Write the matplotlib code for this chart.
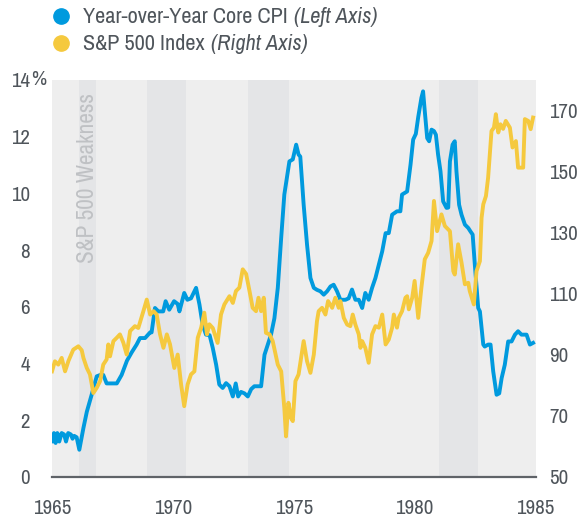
import matplotlib
matplotlib.use("Agg")
import matplotlib.pyplot as plt
from matplotlib import font_manager
from matplotlib.lines import Line2D
import matplotlib.transforms as mtransforms

# Daten
cpi_years = [1965.00, 1965.08, 1965.15, 1965.22, 1965.30, 1965.40, 1965.50, 1965.58, 1965.67,
             1965.78, 1965.85, 1965.92, 1966.02, 1966.13, 1966.30, 1966.44, 1966.64, 1966.85,
             1967.00, 1967.12, 1967.26, 1967.50, 1967.68, 1967.78, 1967.88, 1968.10, 1968.30,
             1968.50, 1968.64, 1968.85, 1969.06, 1969.12, 1969.26, 1969.40, 1969.60, 1969.70,
             1969.85, 1970.05, 1970.20, 1970.27, 1970.47, 1970.60, 1970.75, 1970.96, 1971.10,
             1971.23, 1971.37, 1971.52, 1971.65, 1971.79, 1971.92, 1972.06, 1972.20, 1972.34,
             1972.48, 1972.60, 1972.70, 1972.82, 1972.96, 1973.10, 1973.24, 1973.37, 1973.65,
             1973.79, 1974.06, 1974.20, 1974.34, 1974.48, 1974.61, 1974.82, 1974.96, 1975.10,
             1975.20, 1975.27, 1975.41, 1975.55, 1975.69, 1975.83, 1975.96, 1976.10, 1976.24,
             1976.38, 1976.52, 1976.65, 1976.79, 1976.93, 1977.14, 1977.27, 1977.41, 1977.55,
             1977.69, 1977.83, 1977.96, 1978.10, 1978.24, 1978.38, 1978.52, 1978.66, 1978.80,
             1978.93, 1979.07, 1979.27, 1979.41, 1979.48, 1979.69, 1979.83, 1979.94, 1980.05,
             1980.15, 1980.28, 1980.35, 1980.42, 1980.52, 1980.60, 1980.70, 1980.80, 1980.88,
             1980.97, 1981.07, 1981.18, 1981.32, 1981.39, 1981.46, 1981.57, 1981.66, 1981.73,
             1981.84, 1981.94, 1982.08, 1982.22, 1982.31, 1982.40, 1982.49, 1982.63, 1982.70,
             1982.84, 1982.90, 1983.04, 1983.14, 1983.25, 1983.39, 1983.50, 1983.60, 1983.73,
             1983.87, 1984.01, 1984.15, 1984.28, 1984.42, 1984.63, 1984.77, 1984.90]
cpi_values = [1.26, 1.55, 1.20, 1.55, 1.25, 1.55, 1.50, 1.25, 1.55,
              1.50, 1.35, 1.45, 1.40, 0.96, 1.73, 2.30, 2.90, 3.55,
              3.60, 3.60, 3.30, 3.30, 3.30, 3.45, 3.60, 4.10, 4.40,
              4.67, 4.90, 4.90, 5.10, 5.10, 5.96, 5.84, 5.84, 6.20,
              5.90, 6.20, 6.10, 5.84, 6.49, 6.25, 6.30, 6.67, 6.08,
              5.37, 5.02, 5.00, 4.55, 3.96, 3.26, 3.14, 3.31, 3.20,
              2.84, 3.30, 2.84, 3.00, 2.95, 2.84, 3.10, 3.20, 3.20,
              4.31, 5.02, 5.60, 6.67, 8.43, 9.96, 11.13, 11.20, 11.72,
              11.37, 11.30, 9.60, 8.19, 7.02, 6.67, 6.60, 6.55, 6.43,
              6.55, 6.72, 6.78, 6.55, 6.25, 6.25, 6.30, 6.61, 6.25,
              6.25, 5.96, 6.49, 6.25, 6.67, 7.02, 7.49, 7.96, 8.60,
              8.60, 9.25, 9.37, 9.37, 9.96, 10.07, 11.01, 11.90, 12.10,
              12.70, 13.37, 13.60, 12.90, 11.95, 11.84, 12.25, 12.20, 12.07,
              11.37, 10.78, 9.72, 9.49, 9.50, 11.13, 11.72, 11.84, 10.78,
              9.60, 9.25, 8.90, 8.78, 8.66, 8.55, 7.49, 5.96, 5.84,
              4.67, 4.60, 4.67, 4.67, 3.73, 2.90, 2.95, 3.49, 3.96,
              4.78, 4.78, 5.02, 5.14, 5.02, 5.02, 4.67, 4.73]

sp_years = [1965.00, 1965.12, 1965.26, 1965.40, 1965.54, 1965.68, 1965.88, 1966.09, 1966.23,
            1966.30, 1966.44, 1966.57, 1966.71, 1966.85, 1966.99, 1967.12, 1967.26, 1967.33,
            1967.40, 1967.54, 1967.68, 1967.81, 1967.95, 1968.09, 1968.23, 1968.43, 1968.57,
            1968.78, 1968.92, 1969.06, 1969.20, 1969.33, 1969.47, 1969.61, 1969.75, 1969.88,
            1970.06, 1970.20, 1970.34, 1970.47, 1970.61, 1970.75, 1970.89, 1971.03, 1971.17,
            1971.30, 1971.41, 1971.51, 1971.65, 1971.85, 1971.99, 1972.13, 1972.34, 1972.48,
            1972.61, 1972.75, 1972.89, 1973.03, 1973.17, 1973.30, 1973.44, 1973.54, 1973.65,
            1973.76, 1973.85, 1974.00, 1974.13, 1974.34, 1974.48, 1974.61, 1974.68, 1974.78,
            1974.89, 1974.96, 1975.07, 1975.20, 1975.41, 1975.55, 1975.69, 1975.83, 1975.96,
            1976.03, 1976.17, 1976.31, 1976.42, 1976.59, 1976.72, 1976.86, 1976.93, 1977.07,
            1977.21, 1977.34, 1977.44, 1977.55, 1977.69, 1977.76, 1977.83, 1977.96, 1978.10,
            1978.24, 1978.38, 1978.52, 1978.66, 1978.80, 1978.93, 1979.07, 1979.14, 1979.27,
            1979.34, 1979.48, 1979.62, 1979.69, 1979.76, 1979.90, 1980.00, 1980.15, 1980.28,
            1980.42, 1980.56, 1980.70, 1980.80, 1980.93, 1981.11, 1981.25, 1981.46, 1981.60,
            1981.66, 1981.80, 1981.94, 1982.08, 1982.22, 1982.28, 1982.45, 1982.56, 1982.70,
            1982.77, 1982.84, 1982.95, 1983.04, 1983.18, 1983.28, 1983.36, 1983.46, 1983.55,
            1983.66, 1983.77, 1983.94, 1984.05, 1984.19, 1984.28, 1984.49, 1984.56, 1984.70,
            1984.80, 1984.90]
sp_values = [84.6, 87.9, 86.8, 89.0, 84.6, 88.0, 91.7, 92.8, 91.5,
             89.0, 85.7, 83.6, 77.5, 79.2, 81.4, 86.8, 88.5, 93.4,
             89.5, 94.5, 95.6, 96.7, 94.0, 90.1, 97.8, 99.4, 98.8,
             104.3, 108.1, 103.2, 104.3, 103.2, 96.7, 92.3, 96.7, 93.5,
             85.7, 90.1, 80.3, 73.2, 80.3, 83.6, 84.6, 95.6, 98.9,
             103.8, 96.7, 100.0, 98.8, 93.9, 103.2, 106.5, 109.2, 107.0,
             110.9, 112.0, 118.0, 116.5, 110.9, 105.4, 104.3, 108.7, 104.3,
             108.7, 97.2, 96.7, 94.5, 86.8, 84.6, 72.6, 63.3, 74.3,
             69.3, 68.3, 81.4, 83.6, 94.5, 87.9, 84.1, 90.1, 101.0,
             104.3, 105.4, 103.2, 107.6, 105.4, 108.7, 105.4, 107.6, 102.1,
             99.9, 99.4, 103.2, 99.9, 96.7, 92.3, 94.5, 92.3, 87.4,
             96.7, 99.4, 98.9, 103.2, 93.4, 95.0, 98.9, 103.2, 98.9,
             102.1, 104.3, 108.7, 109.2, 104.9, 108.7, 114.2, 102.1, 112.0,
             121.3, 123.4, 127.3, 140.4, 130.5, 136.0, 132.2, 130.5, 117.4,
             116.3, 126.2, 120.2, 113.1, 113.6, 110.9, 106.5, 117.4, 120.7,
             134.9, 139.3, 142.0, 148.0, 163.3, 164.4, 168.8, 162.8, 165.5,
             164.0, 166.6, 164.4, 157.9, 160.0, 151.3, 151.3, 167.2, 166.6,
             163.9, 167.7]

weakness_starts = [1966.10, 1968.94, 1973.12, 1981.01]
weakness_ends = [1966.81, 1970.56, 1974.80, 1982.63]

left_ticks = [0, 2, 4, 6, 8, 10, 12, 14]
right_ticks = [50, 70, 90, 110, 130, 150, 170]
year_ticks = [1965, 1970, 1975, 1980, 1985]

BLUE = "#009ADE"
YELLOW = "#F5C93E"
TXT = "#4F555B"

# schmale Schrift suchen, sonst Roboto etwas kleiner
fonts = font_manager.fontManager.ttflist
schmal = [f.name for f in fonts if "Narrow" in f.name or "Condensed" in f.name]
schmal_stretch = [f.name for f in fonts if str(f.stretch) in ("condensed", "semi-condensed", "75", "87")]
stretch = "normal"
if schmal:
    schrift = sorted(schmal)[0]
    gross = 15
elif schmal_stretch:
    schrift = schmal_stretch[0]
    stretch = "condensed"
    gross = 15
else:
    schrift = "Roboto"
    gross = 13
plt.rcParams["font.family"] = [schrift, "DejaVu Sans"]
plt.rcParams["font.stretch"] = stretch

fig = plt.figure(figsize=(5.81, 5.21), dpi=100)
ax = fig.add_axes([52 / 581, 44 / 521, 483.5 / 581, 397 / 521])
ax.set_facecolor("#EEEEEE")
for a, b in zip(weakness_starts, weakness_ends):
    ax.axvspan(a, b, color="#E4E5E7", lw=0, zorder=0)

ax.plot(cpi_years, cpi_values, color=BLUE, lw=2.8, solid_joinstyle="round", zorder=3)
ax.set_xlim(1965, 1985)
ax.set_ylim(0, 14)

ax2 = ax.twinx()
ax2.plot(sp_years, sp_values, color=YELLOW, lw=2.8, solid_joinstyle="round")
ax2.set_ylim(50, 180)

for a in (ax, ax2):
    for s in a.spines.values():
        s.set_visible(False)
ax.spines["bottom"].set_visible(True)
ax.spines["bottom"].set_color("#5F6368")
ax.spines["bottom"].set_linewidth(1.6)

ax.set_xticks(year_ticks)
ax.set_xticklabels([str(y) for y in year_ticks])
ax.set_yticks(left_ticks)
ax.set_yticklabels([str(v) for v in left_ticks])
ax2.set_yticks(right_ticks)
ax2.set_yticklabels([str(v) for v in right_ticks])
ax.tick_params(axis="x", length=0, pad=16, labelsize=gross, labelcolor=TXT)
ax.tick_params(axis="y", length=0, pad=16, labelsize=gross, labelcolor=TXT)
ax2.tick_params(axis="y", length=0, pad=10, labelsize=gross, labelcolor=TXT)

# Prozentzeichen hinter der 14
ax.text(-21 / 483.5, 14, "%", transform=mtransforms.blended_transform_factory(ax.transAxes, ax.transData),
        ha="left", va="center", fontsize=gross, color=TXT)

ax.text((weakness_starts[0] + weakness_ends[0]) / 2, 0.967, "S&P 500 Weakness",
        transform=mtransforms.blended_transform_factory(ax.transData, ax.transAxes),
        rotation=90, ha="center", va="top", fontsize=gross * 1.12, color="#BFC1C4")

# Legende
for y_px, farbe in [(16, BLUE), (43, YELLOW)]:
    fig.add_artist(Line2D([61 / 581], [1 - y_px / 521], marker="o", ms=11, color=farbe,
                          lw=0, transform=fig.transFigure))

leg_gross = gross * 1.07
t1 = fig.text(83 / 581, 1 - 23 / 521, "Year-over-Year Core CPI", fontsize=leg_gross, color=TXT, va="baseline")
t2 = fig.text(83 / 581, 1 - 50 / 521, "S&P 500 Index", fontsize=leg_gross, color=TXT, va="baseline")
fig.canvas.draw()
r = fig.canvas.get_renderer()
for t, zusatz in [(t1, "(Left Axis)"), (t2, "(Right Axis)")]:
    bb = t.get_window_extent(r)
    fig.text((bb.x1 + 6) / fig.bbox.width, t.get_position()[1], zusatz, fontsize=leg_gross,
             color=TXT, style="italic", va="baseline")

fig.savefig("out.png", dpi=100)
